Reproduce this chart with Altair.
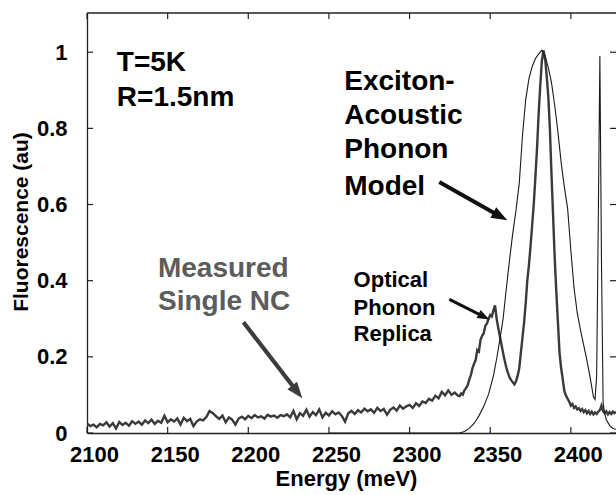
import altair as alt
import pandas as pd

# ---------------- data ----------------
# measured single-NC spectrum, 2100-2330 meV every 2 meV
meas_lo_start = 2100
meas_lo_step = 2
meas_lo_vals = [
    0.025, 0.018, 0.022, 0.015, 0.024, 0.020, 0.028, 0.017, 0.026, 0.012,  # 2100-2118
    0.029, 0.021, 0.027, 0.019, 0.031, 0.024, 0.030, 0.022, 0.033, 0.026,  # 2120-2138
    0.035, 0.024, 0.032, 0.027, 0.045, 0.028, 0.036, 0.030, 0.038, 0.022,  # 2140-2158
    0.040, 0.031, 0.037, 0.018, 0.030, 0.036, 0.033, 0.042, 0.058, 0.052,  # 2160-2178
    0.044, 0.037, 0.046, 0.028, 0.041, 0.035, 0.022, 0.038, 0.043, 0.036,  # 2180-2198
    0.045, 0.039, 0.047, 0.041, 0.044, 0.038, 0.048, 0.043, 0.046, 0.040,  # 2200-2218
    0.047, 0.044, 0.049, 0.041, 0.058, 0.036, 0.052, 0.045, 0.061, 0.043,  # 2220-2238
    0.055, 0.047, 0.062, 0.041, 0.053, 0.046, 0.057, 0.049, 0.054, 0.045,  # 2240-2258
    0.030, 0.052, 0.058, 0.050, 0.060, 0.054, 0.064, 0.057, 0.062, 0.053,  # 2260-2278
    0.066, 0.058, 0.063, 0.048, 0.061, 0.067, 0.059, 0.072, 0.064, 0.070,  # 2280-2298
    0.074, 0.066, 0.078, 0.071, 0.083, 0.079, 0.090, 0.085, 0.098, 0.091,  # 2300-2318
    0.108, 0.099, 0.112, 0.100, 0.106, 0.098,                              # 2320-2330
]
# measured spectrum, 2331-2428 meV every 1 meV
meas_hi_start = 2331
meas_hi_vals = [
    0.097, 0.104, 0.101, 0.112, 0.118, 0.125, 0.140, 0.152, 0.170, 0.182,  # 2331-2340
    0.192, 0.218, 0.214, 0.245, 0.255, 0.262, 0.282, 0.288, 0.300, 0.310,  # 2341-2350
    0.306, 0.322, 0.335, 0.300, 0.276, 0.255, 0.232, 0.210, 0.190, 0.172,  # 2351-2360
    0.158, 0.146, 0.139, 0.133, 0.128, 0.136, 0.150, 0.170, 0.210, 0.250,  # 2361-2370
    0.290, 0.340, 0.400, 0.440, 0.490, 0.545, 0.600, 0.670, 0.745, 0.835,  # 2371-2380
    0.910, 0.975, 1.005, 0.985, 0.940, 0.885, 0.800, 0.680, 0.570, 0.460,  # 2381-2390
    0.370, 0.290, 0.210, 0.170, 0.140, 0.110, 0.098, 0.090, 0.082, 0.072,  # 2391-2400
    0.076, 0.066, 0.070, 0.062, 0.065, 0.058, 0.063, 0.055, 0.060, 0.052,  # 2401-2410
    0.058, 0.050, 0.056, 0.049, 0.054, 0.050, 0.056, 0.060, 0.072, 0.058,  # 2411-2420
    0.052, 0.057, 0.049, 0.055, 0.050, 0.056, 0.052, 0.055,                # 2421-2428
]

# exciton-acoustic phonon model
model_E = [2250, 2331, 2334, 2337, 2340, 2343, 2346, 2349, 2352, 2354, 2356, 2358,
           2360, 2362, 2364, 2366, 2368, 2370, 2372, 2374, 2376, 2378, 2380, 2382,
           2384, 2386, 2388, 2390, 2392, 2394, 2396, 2398, 2400, 2402, 2404, 2406,
           2408, 2410, 2412, 2414, 2415, 2416, 2417, 2418, 2419, 2420, 2421, 2422,
           2424, 2426, 2428]
model_V = [0.0, 0.0, 0.004, 0.012, 0.025, 0.045, 0.070, 0.102, 0.150, 0.195, 0.245, 0.300,
           0.380, 0.455, 0.525, 0.585, 0.655, 0.780, 0.875, 0.930, 0.962, 0.983, 0.995, 1.005,
           0.990, 0.960, 0.920, 0.860, 0.790, 0.710, 0.645, 0.590, 0.480, 0.380, 0.315, 0.270,
           0.230, 0.190, 0.145, 0.095, 0.088, 0.150, 0.550, 0.990, 0.450, 0.080, 0.050, 0.035,
           0.020, 0.012, 0.010]

x_ticks = [2100, 2150, 2200, 2250, 2300, 2350, 2400]
y_ticks = [0, 0.2, 0.4, 0.6, 0.8, 1.0]
x_title = "Energy (meV)"
y_title = "Fluorescence (au)"

# annotations (data coordinates)
big_text = ["T=5K", "R=1.5nm", "Exciton-", "Acoustic", "Phonon", "Model"]
big_x = [2118.5, 2118.5, 2259.5, 2259.5, 2259.5, 2259.5]
big_y = [0.951, 0.860, 0.902, 0.811, 0.721, 0.624]
gray_text = ["Measured", "Single NC"]
gray_x = [2144.0, 2144.0]
gray_y = [0.410, 0.322]
small_text = ["Optical", "Phonon", "Replica"]
small_x = [2265.3, 2265.3, 2265.3]
small_y = [0.383, 0.309, 0.242]

arrow_name = ["model", "measured", "optical"]
arrow_x0 = [2318.4, 2197.0, 2324.7]
arrow_y0 = [0.659, 0.291, 0.351]
arrow_x1 = [2354.1, 2228.9, 2343.8]
arrow_y1 = [0.574, 0.116, 0.310]
arrow_tx = [2360.6, 2233.5, 2349.5]
arrow_ty = [0.559, 0.091, 0.298]

# ---------------- tables ----------------
meas_E = [meas_lo_start + meas_lo_step * i for i in range(len(meas_lo_vals))] + \
         [meas_hi_start + i for i in range(len(meas_hi_vals))]
meas_df = pd.DataFrame({"E": meas_E, "F": meas_lo_vals + meas_hi_vals})
model_df = pd.DataFrame({"E": model_E, "F": model_V})
xt_df = pd.DataFrame({"E": x_ticks})
yt_df = pd.DataFrame({"F": y_ticks})
big_df = pd.DataFrame({"E": big_x, "F": big_y, "t": big_text})
gray_df = pd.DataFrame({"E": gray_x, "F": gray_y, "t": gray_text})
small_df = pd.DataFrame({"E": small_x, "F": small_y, "t": small_text})
arr_df = pd.DataFrame({"name": arrow_name, "E": arrow_x0, "F": arrow_y0,
                       "E2": arrow_x1, "F2": arrow_y1, "TE": arrow_tx, "TF": arrow_ty})

FONT = "Liberation Sans"
W, H = 529, 420
xs = alt.Scale(domain=[2100, 2428], nice=False, zero=False)
ys = alt.Scale(domain=[0, 1.103], nice=False, zero=False)

x_axis = alt.Axis(values=x_ticks, format="d", title=None)
y_axis = alt.Axis(values=y_ticks, title=None,
                  labelExpr="datum.value == 0 ? '0' : datum.value == 1 ? '1' : format(datum.value, '.1f')")


def X(field):
    return alt.X(field, scale=xs, axis=x_axis)


def Y(field):
    return alt.Y(field, scale=ys, axis=y_axis)


measured = alt.Chart(meas_df).mark_line(color="#3a3a3a", strokeWidth=2.4, clip=True).encode(
    x=X("E:Q"), y=Y("F:Q"))
model = alt.Chart(model_df).mark_line(color="#1a1a1a", strokeWidth=1.1, clip=True).encode(
    x=X("E:Q"), y=Y("F:Q"))

# inward tick marks (bottom/top on x values, left/right on y values)
tick_b = alt.Chart(xt_df).mark_rule(color="#222", strokeWidth=1.2).encode(
    x=X("E:Q"), y=alt.value(H), y2=alt.value(H - 6))
tick_t = alt.Chart(xt_df).mark_rule(color="#222", strokeWidth=1.2).encode(
    x=X("E:Q"), y=alt.value(0), y2=alt.value(6))
tick_l = alt.Chart(yt_df).mark_rule(color="#222", strokeWidth=1.2).encode(
    y=Y("F:Q"), x=alt.value(0), x2=alt.value(6))
tick_r = alt.Chart(yt_df).mark_rule(color="#222", strokeWidth=1.2).encode(
    y=Y("F:Q"), x=alt.value(W), x2=alt.value(W - 6))
top_line = alt.Chart(xt_df.head(1)).mark_rule(color="#222", strokeWidth=1.3).encode(
    x=alt.value(0), x2=alt.value(W), y=alt.value(0))

# axis titles
xt_title = alt.Chart(pd.DataFrame({"t": [x_title]})).mark_text(
    align="center", baseline="alphabetic", font=FONT, fontWeight="bold", fontSize=22,
    color="black").encode(x=alt.value(259.5), y=alt.value(H + 53), text="t:N")
yt_title = alt.Chart(pd.DataFrame({"t": [y_title]})).mark_text(
    align="center", baseline="middle", font=FONT, fontWeight="bold", fontSize=21,
    color="black", angle=270).encode(x=alt.value(-65), y=alt.value(209), text="t:N")


def texts(df, size, color):
    return alt.Chart(df).mark_text(align="left", baseline="alphabetic", font=FONT,
                                   fontWeight="bold", fontSize=size, color=color).encode(
        x=X("E:Q"), y=Y("F:Q"), text="t:N")


t_big = texts(big_df, 28, "black")
t_gray = texts(gray_df, 28, "#5c5c5c")
t_small = texts(small_df, 22, "black")

HEAD = "M0,0 L-0.6,1.6 L0.6,1.6 Z"
arrow_styles = {"model": ("#111", 4, 119, 400), "measured": ("#3c3c3c", 4.2, 142, 420),
                "optical": ("#111", 3, 117, 230)}
arrows = []
for nm, (col, sw, ang, sz) in arrow_styles.items():
    d = arr_df[arr_df["name"] == nm]
    arrows.append(alt.Chart(d).mark_rule(color=col, strokeWidth=sw).encode(
        x=X("E:Q"), y=Y("F:Q"), x2="E2:Q", y2="F2:Q"))
    arrows.append(alt.Chart(d).mark_point(shape=HEAD, filled=True, color=col, opacity=1,
                                          angle=ang, size=sz, strokeWidth=0).encode(
        x=X("TE:Q"), y=Y("TF:Q")))

chart = alt.layer(measured, model, tick_b, tick_t, tick_l, tick_r, top_line,
                  xt_title, yt_title, t_big, t_gray, t_small, *arrows).properties(
    width=W, height=H,
    autosize=alt.AutoSizeParams(type="none"),
    padding={"left": 87, "top": 13, "right": 0, "bottom": 62},
    background="white",
).configure_view(stroke=None).configure_axis(
    ticks=False, grid=False, labelFont=FONT, labelFontWeight="bold", labelFontSize=22,
    labelColor="black", domainColor="#222", domainWidth=1.3,
).configure_axisX(
    labelPadding=11, labelOffset=7, labelFlush=False,
).configure_axisY(
    labelPadding=20,
)

chart.save("out.html", embed_options={"renderer": "svg", "actions": False})
